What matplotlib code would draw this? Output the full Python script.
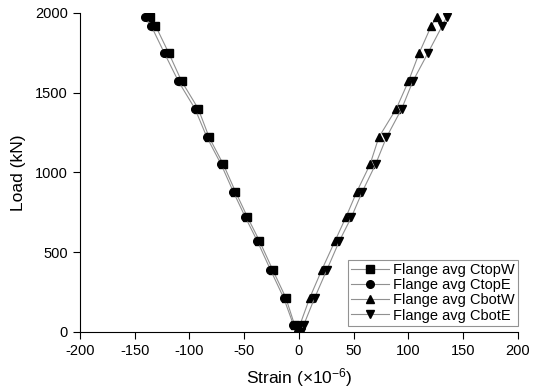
import matplotlib
matplotlib.use("Agg")
import matplotlib.pyplot as plt

plt.rcParams['font.family'] = ['Liberation Sans', 'DejaVu Sans']
plt.rcParams['mathtext.fontset'] = 'custom'
plt.rcParams['mathtext.rm'] = 'Liberation Sans'
plt.rcParams['mathtext.it'] = 'Liberation Sans'
plt.rcParams['axes.unicode_minus'] = False

load = [0, 45, 215, 390, 570, 720, 880, 1050, 1220, 1400, 1570, 1750, 1920, 1975]
ctopW = [0, -4, -12, -24, -36, -47, -58, -69, -82, -92, -107, -119, -131, -136]
ctopE = [-1, -5, -14, -26, -38, -49, -60, -71, -84, -95, -110, -123, -135, -141]
cbotW = [0, 1, 10, 21, 33, 43, 53, 65, 73, 89, 100, 110, 121, 126]
cbotE = [2, 4.5, 14.5, 25.6, 37, 48, 58, 70, 80, 94, 104, 118, 131, 135]

series = [
    (ctopW, 's', 'Flange avg CtopW'),
    (ctopE, 'o', 'Flange avg CtopE'),
    (cbotW, '^', 'Flange avg CbotW'),
    (cbotE, 'v', 'Flange avg CbotE'),
]
xticks = [-200, -150, -100, -50, 0, 50, 100, 150, 200]
yticks = [0, 500, 1000, 1500, 2000]

fig = plt.figure(figsize=(5.4, 3.9), dpi=100)
ax = fig.add_axes([0.148, 0.149, 0.811, 0.818])

for xs, m, lab in series:
    ax.plot(xs, load, color='#909090', lw=0.8, marker=m, markersize=5.5,
            markerfacecolor='black', markeredgecolor='black', label=lab)

ax.set_xlim(-200, 200)
ax.set_ylim(0, 2000)
ax.set_xticks(xticks)
ax.set_yticks(yticks)
ax.spines['top'].set_visible(False)
ax.spines['right'].set_visible(False)
ax.tick_params(direction='out', length=5, labelsize=10.5, colors='black')
ax.set_xlabel('Strain (×10$^{-6}$)', fontsize=12.5, labelpad=6)
ax.set_ylabel('Load (kN)', fontsize=12.5, labelpad=7)

leg = ax.legend(loc='lower right', bbox_to_anchor=(1.0, 0.02), fontsize=10.5,
                frameon=True, fancybox=False, edgecolor='#777777',
                handlelength=2.6, handletextpad=0.3, borderpad=0.2,
                labelspacing=0.08, borderaxespad=0)
leg.get_frame().set_linewidth(0.8)

fig.savefig('out.png', dpi=100)
